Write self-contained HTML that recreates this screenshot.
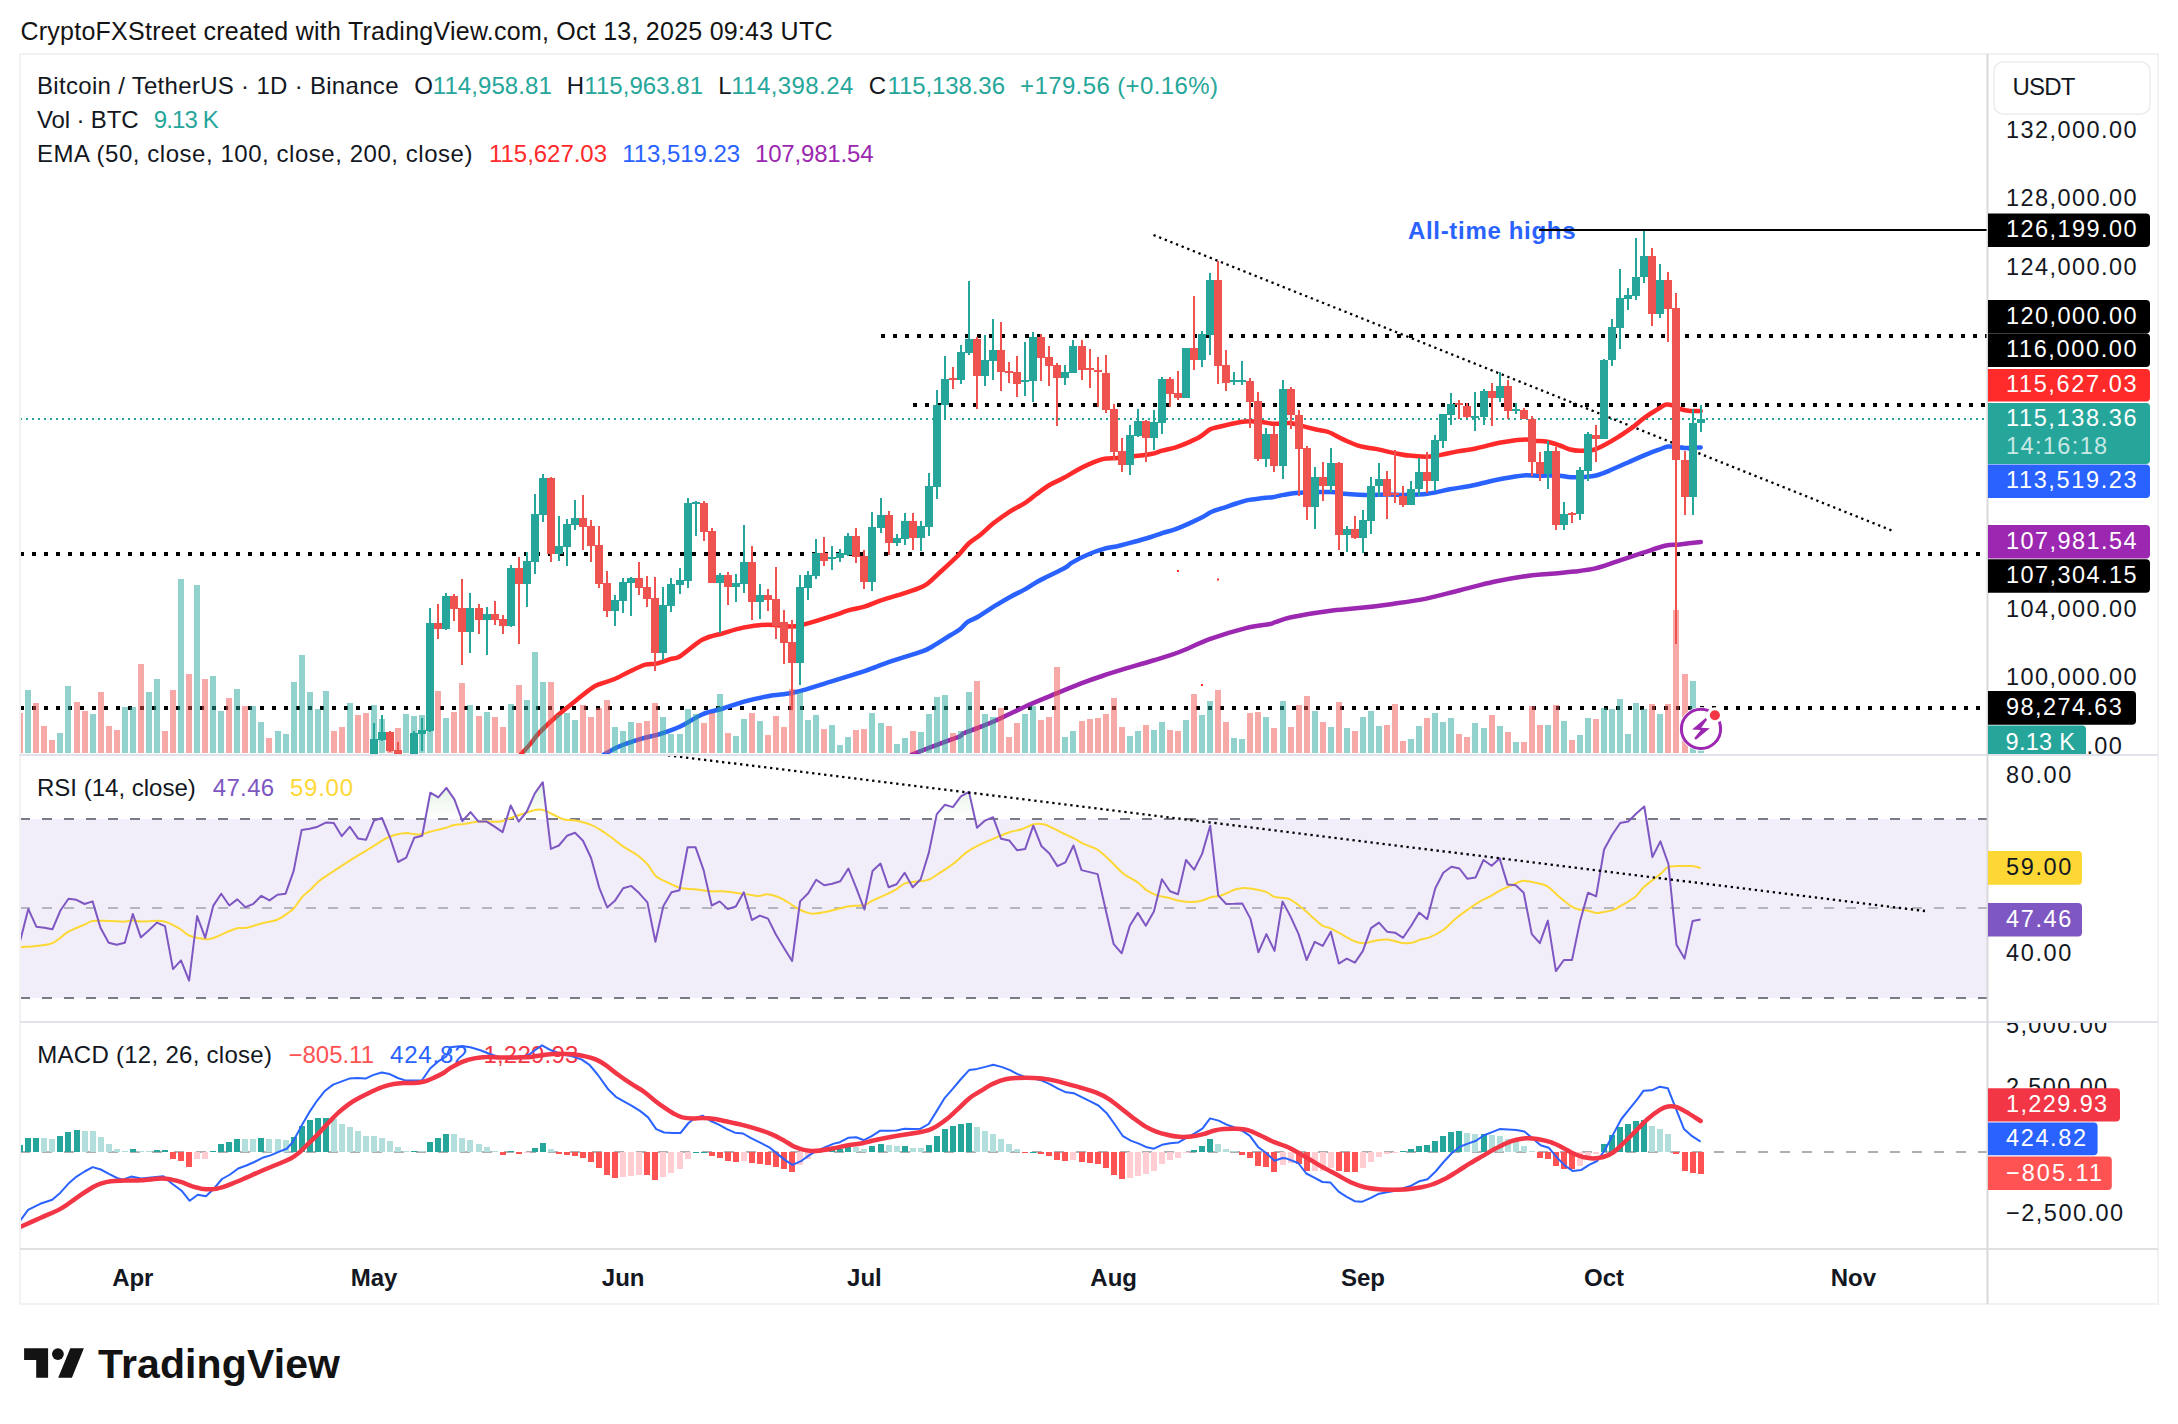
<!DOCTYPE html>
<html lang="en"><head><meta charset="utf-8"><title>BTCUSDT chart</title>
<style>html,body{margin:0;padding:0;background:#fff}svg text{white-space:pre}</style></head>
<body>
<svg width="2178" height="1424" viewBox="0 0 2178 1424" font-family="'Liberation Sans', sans-serif" style="display:block">
<defs>
<clipPath id="cm"><rect x="21" y="55" width="1966" height="699"/></clipPath>
<clipPath id="cr"><rect x="21" y="756" width="1966" height="265"/></clipPath>
<clipPath id="cd"><rect x="21" y="1023" width="1966" height="225"/></clipPath>
<clipPath id="ca1"><rect x="1989" y="55" width="168" height="699"/></clipPath>
<clipPath id="ca3"><rect x="1989" y="1023" width="168" height="225"/></clipPath>
<clipPath id="c70"><rect x="21" y="756" width="1966" height="63"/></clipPath>
<linearGradient id="gob" gradientUnits="userSpaceOnUse" x1="0" y1="700" x2="0" y2="819"><stop offset="0" stop-color="#4caf50" stop-opacity="0.55"/><stop offset="1" stop-color="#4caf50" stop-opacity="0"/></linearGradient>
</defs>
<rect width="2178" height="1424" fill="#fff"/>
<text x="20.5" y="40" font-size="25" fill="#131313" textLength="812" lengthAdjust="spacing">CryptoFXStreet created with TradingView.com, Oct 13, 2025 09:43 UTC</text>
<rect x="20" y="54" width="2138" height="1250" fill="none" stroke="#f2f2f2" stroke-width="2"/>
<g clip-path="url(#cm)">
<line x1="881" y1="336" x2="1987" y2="336" stroke="#000" stroke-width="4" stroke-dasharray="4 8"/>
<line x1="913" y1="405" x2="1987" y2="405" stroke="#000" stroke-width="4" stroke-dasharray="4 8"/>
<line x1="20" y1="554" x2="1987" y2="554" stroke="#000" stroke-width="4" stroke-dasharray="4 8"/>
<line x1="20" y1="708" x2="1987" y2="708" stroke="#000" stroke-width="4" stroke-dasharray="4 8"/>
<line x1="20" y1="419" x2="1987" y2="419" stroke="#26a69a" stroke-width="2" stroke-dasharray="2 4"/>
<line x1="1153.5" y1="235" x2="1893" y2="531" stroke="#000" stroke-width="2.3" stroke-dasharray="2.3 3.75"/>
<path d="M911.7,754.6C916.6,752.7 932.8,746.4 940.9,743.4C949,740.3 956.3,737.9 960,736.2C963.7,734.5 960.3,734.7 963.4,733.3C966.5,731.8 972.7,730.1 978.5,727.7C984.4,725.4 990.4,723 998.6,719.2C1006.9,715.5 1018.5,709.6 1028,705.3C1037.5,701.1 1047,697.3 1055.8,693.7C1064.6,690.1 1072.8,686.7 1080.5,683.7C1088.2,680.7 1094.4,678.5 1102.2,676C1109.9,673.4 1118.4,670.8 1126.9,668.2C1135.4,665.7 1144.4,663.2 1153.1,660.5C1161.9,657.8 1169.9,655.6 1179.4,652C1188.9,648.4 1199.2,642.9 1210.3,638.9C1221.4,634.9 1235.9,630.6 1245.8,628.1C1255.8,625.6 1265.1,625 1270,624C1274.9,623 1271.7,623.3 1275.2,622.2C1278.7,621.1 1282.1,619.1 1291.1,617.2C1300.1,615.3 1317.9,612.4 1329.1,610.9C1340.4,609.4 1348.1,609.3 1358.7,608.1C1369.3,607 1381.2,605.5 1392.5,603.9C1403.8,602.3 1415,600.9 1426.3,598.6C1437.5,596.3 1448.8,593 1460.1,590.2C1471.3,587.4 1483.3,584 1493.9,581.7C1504.4,579.5 1513.9,577.8 1523.4,576.5C1532.9,575.1 1542.4,574.5 1550.9,573.7C1559.3,572.9 1566.7,572.5 1574.1,571.6C1581.5,570.7 1588.2,570.1 1595.2,568.4C1602.3,566.8 1608.6,564.2 1616.4,561.7C1624.1,559.1 1633.6,555.9 1641.7,553.2C1649.8,550.6 1658.6,547.3 1664.9,545.8C1671.3,544.4 1673.7,545 1679.7,544.4C1685.7,543.7 1697.3,542.4 1700.8,542" stroke="#9c27b0" stroke-width="4.5" fill="none" stroke-linecap="round" stroke-linejoin="round"/>
<path d="M603.8,754.6C606.3,753.3 612.2,749.4 618.4,746.7C624.6,744.1 634.2,740.9 640.9,738.9C647.6,736.8 652.3,736.4 658.9,734.4C665.4,732.3 672.9,729.9 680.2,726.5C687.5,723.1 695.6,717.2 702.7,714.2C709.8,711.2 716.2,710.6 722.9,708.5C729.7,706.5 735.7,703.9 743.1,701.8C750.6,699.7 760,697.6 767.9,696.2C775.7,694.8 784,694.4 790.3,693.3C796.7,692.1 799.3,691.4 806.1,689.4C812.8,687.5 823.3,683.9 830.8,681.6C838.3,679.2 845,677.2 851,675.3C857,673.4 861.1,672.3 866.7,670.3C872.4,668.4 878.4,665.8 884.7,663.6C891.1,661.3 898.6,658.9 904.9,656.9C911.3,654.8 918.4,652.9 922.9,651.2C927.4,649.6 927.4,649.4 931.9,646.7C936.4,644.1 945.2,638.4 949.9,635.5C954.6,632.6 957,631.6 960,629.3C963,627 964.6,624 967.7,621.9C970.8,619.8 974.2,619.1 978.5,616.5C982.9,613.9 988.6,609.8 994,606.4C999.4,603.1 1005.8,599.2 1011,596.4C1016.1,593.6 1020.5,591.9 1024.9,589.4C1029.3,587 1033.4,583.9 1037.3,581.7C1041.1,579.5 1043.4,578.6 1048.1,576.3C1052.7,574 1061,570.1 1065.1,567.8C1069.1,565.5 1068.5,564.6 1072.4,562.4C1076.2,560.1 1082.8,556.7 1088.1,554.5C1093.3,552.2 1099,550.3 1103.8,548.9C1108.7,547.5 1112.1,547.4 1117.3,546.2C1122.5,544.9 1129.7,543 1135.3,541.5C1140.9,539.9 1146.5,538.4 1151,537C1155.5,535.6 1158.1,534.5 1162.2,533.1C1166.4,531.8 1170.9,530.9 1175.7,529.1C1180.6,527.3 1187,524.4 1191.5,522.4C1196,520.3 1199.3,518.7 1202.7,517C1206.1,515.2 1207.9,513.4 1211.7,511.8C1215.4,510.2 1221,508.7 1225.2,507.3C1229.3,505.9 1232.7,504.7 1236.4,503.5C1240.1,502.3 1243.5,501 1247.6,500.1C1251.8,499.3 1257,498.8 1261.1,498.3C1265.2,497.8 1268.6,497.8 1272.4,497.2C1276.1,496.6 1279,495.7 1283.5,494.9C1288,494.2 1291.3,493.2 1299.2,492.7C1307.1,492.2 1323.2,491.8 1330.7,492C1338.2,492.2 1338.5,493.3 1344.2,493.8C1349.8,494.3 1356.9,494.8 1364.4,494.9C1371.9,495.1 1382.4,494.5 1389.1,494.5C1395.8,494.5 1398.5,495.1 1404.8,494.9C1411.2,494.8 1419.8,494.8 1427.3,493.8C1434.8,492.9 1442.3,490.7 1449.8,489.3C1457.3,487.9 1464.8,487 1472.2,485.5C1479.7,484 1488,481.8 1494.7,480.3C1501.5,478.9 1507.8,477.8 1512.7,477C1517.6,476.1 1519.4,475.6 1523.9,475.4C1528.4,475.2 1534.8,475.8 1539.7,475.8C1544.5,475.8 1549.8,475.4 1553.1,475.4C1556.5,475.4 1557,475.4 1560,475.7C1563,476 1567.1,477.1 1571.2,477.3C1575.4,477.5 1580.6,477.2 1584.7,476.9C1588.8,476.6 1591.8,476.6 1596,475.5C1600.1,474.5 1604.2,472.7 1609.4,470.6C1614.7,468.4 1621.4,465.3 1627.4,462.7C1633.4,460.1 1640.1,457 1645.4,454.8C1650.6,452.7 1655.1,451 1658.9,449.7C1662.6,448.3 1664.9,447 1667.9,446.5C1670.9,446.1 1673.9,446.7 1676.9,447C1679.9,447.2 1681.9,448 1685.8,448.1C1689.8,448.2 1698.2,447.5 1700.7,447.4" stroke="#2962ff" stroke-width="4.5" fill="none" stroke-linecap="round" stroke-linejoin="round"/>
<path d="M520.7,754.6C522.4,752.7 527.6,747.1 530.8,743.4C534,739.6 535.3,736.8 539.8,732.1C544.3,727.5 551.8,720.5 557.8,715.3C563.7,710 570.1,705.2 575.7,700.7C581.3,696.2 587.3,691.1 591.5,688.3C595.6,685.5 596.7,685.3 600.4,683.8C604.2,682.3 609.1,681.4 613.9,679.3C618.8,677.3 624.4,673.9 629.7,671.5C634.9,669 640.9,666 645.4,664.7C649.9,663.4 652.5,664.5 656.6,663.6C660.7,662.7 666.2,660.3 670.1,659.1C674,657.9 674.8,659.4 680.2,656.2C685.7,652.9 695.6,643.4 702.7,639.6C709.8,635.7 716.2,635.2 722.9,633.3C729.7,631.3 735.7,629.1 743.1,627.6C750.6,626.2 759.6,624.9 767.9,624.7C776.1,624.5 786.2,626.7 792.6,626.5C799,626.4 799.7,625.5 806.1,623.8C812.4,622.1 823.3,618.8 830.8,616.4C838.3,614 845.4,611.3 851,609.7C856.6,608.1 859.6,608.2 864.5,606.7C869.4,605.2 874.6,602.6 880.2,600.7C885.8,598.7 891.8,597.1 898.2,595.1C904.6,593 913.6,590.2 918.4,588.3C923.3,586.4 923.7,586.6 927.4,583.8C931.2,581 936,576 940.9,571.5C945.8,567 953.4,559.9 956.6,556.9C959.8,553.8 957.9,555.6 960,553.4C962.1,551.1 965.6,546.3 969,543.3C972.4,540.2 976.1,538.3 980.2,534.9C984.3,531.6 988.8,526.9 993.7,523C998.6,519.2 1004.2,515.2 1009.4,511.8C1014.7,508.4 1020.7,505.7 1025.2,502.8C1029.7,499.9 1032.3,497.3 1036.4,494.3C1040.5,491.3 1045.4,487.5 1049.9,484.8C1054.4,482.1 1058.9,480.5 1063.4,478.1C1067.9,475.7 1072.7,472.5 1076.9,470.2C1081,468 1084.3,466.3 1088.1,464.6C1091.8,462.9 1096.3,461.1 1099.3,460.1C1102.3,459.1 1103.1,458.9 1106.1,458.5C1109.1,458.2 1112.8,458.2 1117.3,457.9C1121.8,457.5 1127.4,456.9 1133,456.3C1138.7,455.7 1146.1,455 1151,454C1155.9,453.1 1158.1,451.8 1162.2,450.7C1166.4,449.6 1171.2,448.7 1175.7,447.3C1180.2,445.9 1185.1,443.9 1189.2,442.1C1193.3,440.3 1197.1,438.6 1200.4,436.5C1203.8,434.5 1206.8,431.3 1209.4,429.8C1212.1,428.3 1212.8,428.5 1216.2,427.5C1219.6,426.6 1225.5,425.1 1229.7,424.2C1233.8,423.2 1237.5,422.4 1240.9,421.9C1244.3,421.4 1246.5,421.2 1249.9,421.2C1253.3,421.2 1257.4,421.5 1261.1,421.9C1264.9,422.3 1269.4,423.4 1272.4,423.7C1275.3,424 1276,423.8 1279,423.7C1282,423.6 1286.1,422.6 1290.2,423C1294.3,423.5 1299.2,425.3 1303.7,426.4C1308.2,427.5 1313.1,428.8 1317.2,429.8C1321.3,430.7 1323.9,430.3 1328.4,432C1332.9,433.7 1338.9,437.5 1344.2,439.9C1349.4,442.2 1354.6,444.7 1359.9,446.2C1365.1,447.7 1370,447.8 1375.6,448.9C1381.2,450 1388,451.8 1393.6,452.9C1399.2,454 1403.7,455 1409.3,455.6C1414.9,456.3 1422.1,456.9 1427.3,456.7C1432.5,456.6 1435.9,455.8 1440.8,454.9C1445.7,454.1 1450.5,452.7 1456.5,451.6C1462.5,450.4 1469.6,449.7 1476.7,448.2C1483.9,446.7 1492.8,444.1 1499.2,442.8C1505.6,441.5 1510.4,440.9 1514.9,440.3C1519.4,439.8 1522.8,439.3 1526.2,439.4C1529.6,439.6 1531.8,440.7 1535.2,441C1538.5,441.3 1542.3,440.7 1546.4,441.5C1550.5,442.2 1556.1,444.2 1559.9,445.5C1563.7,446.8 1565.6,448.3 1569,449.2C1572.4,450.1 1576.1,450.7 1580.2,450.8C1584.3,450.9 1589.6,450.7 1593.7,449.7C1597.8,448.7 1600.8,446.9 1604.9,444.7C1609.1,442.6 1613.9,439.7 1618.4,436.9C1622.9,434 1627.6,431 1631.9,427.9C1636.2,424.7 1640.1,420.7 1644.3,417.8C1648.4,414.8 1653.1,412.1 1656.6,409.9C1660.2,407.7 1663,405.5 1665.6,404.7C1668.2,404 1669.7,404.6 1672.4,405.4C1675,406.2 1678.4,408.5 1681.3,409.4C1684.3,410.4 1687.1,410.7 1690.3,411C1693.6,411.3 1699,411 1700.7,411" stroke="#ff2a2a" stroke-width="4.5" fill="none" stroke-linecap="round" stroke-linejoin="round"/>
<path d="M25,753V690h6V753zM57,753V733h6V753zM65,753V686h6V753zM90,753V714h6V753zM122,753V707h6V753zM130,753V707h6V753zM146,753V692h6V753zM154,753V679h6V753zM178,753V579h6V753zM194,753V585h6V753zM210,753V676h6V753zM218,753V711h6V753zM234,753V689h6V753zM250,753V706h6V753zM258,753V722h6V753zM275,753V731h6V753zM283,753V734h6V753zM291,753V682h6V753zM299,753V655h6V753zM307,753V692h6V753zM315,753V709h6V753zM323,753V691h6V753zM347,753V703h6V753zM371,753V705h6V753zM379,753V719h6V753zM403,753V714h6V753zM411,753V716h6V753zM419,753V715h6V753zM427,753V698h6V753zM443,753V718h6V753zM467,753V705h6V753zM484,753V712h6V753zM508,753V704h6V753zM524,753V700h6V753zM532,753V652h6V753zM540,753V682h6V753zM556,753V715h6V753zM564,753V713h6V753zM572,753V720h6V753zM612,753V727h6V753zM620,753V731h6V753zM628,753V722h6V753zM660,753V717h6V753zM668,753V734h6V753zM677,753V734h6V753zM685,753V709h6V753zM693,753V714h6V753zM717,753V694h6V753zM733,753V736h6V753zM741,753V719h6V753zM757,753V721h6V753zM797,753V692h6V753zM805,753V720h6V753zM813,753V715h6V753zM829,753V725h6V753zM837,753V745h6V753zM845,753V737h6V753zM869,753V713h6V753zM878,753V723h6V753zM894,753V744h6V753zM902,753V738h6V753zM918,753V732h6V753zM926,753V714h6V753zM934,753V697h6V753zM942,753V695h6V753zM958,753V731h6V753zM966,753V692h6V753zM982,753V714h6V753zM990,753V717h6V753zM1022,753V714h6V753zM1030,753V706h6V753zM1062,753V737h6V753zM1070,753V731h6V753zM1127,753V736h6V753zM1135,753V731h6V753zM1151,753V730h6V753zM1159,753V722h6V753zM1183,753V720h6V753zM1199,753V715h6V753zM1207,753V701h6V753zM1231,753V738h6V753zM1239,753V739h6V753zM1263,753V717h6V753zM1280,753V701h6V753zM1312,753V711h6V753zM1328,753V727h6V753zM1344,753V728h6V753zM1360,753V717h6V753zM1368,753V711h6V753zM1376,753V726h6V753zM1408,753V739h6V753zM1416,753V726h6V753zM1432,753V713h6V753zM1440,753V722h6V753zM1448,753V718h6V753zM1472,753V723h6V753zM1481,753V728h6V753zM1497,753V726h6V753zM1513,753V742h6V753zM1545,753V725h6V753zM1561,753V721h6V753zM1577,753V735h6V753zM1585,753V718h6V753zM1601,753V708h6V753zM1609,753V709h6V753zM1617,753V699h6V753zM1625,753V734h6V753zM1633,753V703h6V753zM1641,753V709h6V753zM1657,753V714h6V753zM1690,753V681h6V753zM1698,753V750h6V753z" fill="#26a69a" fill-opacity="0.5"/>
<path d="M17,753V713h6V753zM33,753V703h6V753zM41,753V726h6V753zM49,753V740h6V753zM74,753V702h6V753zM82,753V711h6V753zM98,753V692h6V753zM106,753V726h6V753zM114,753V730h6V753zM138,753V664h6V753zM162,753V731h6V753zM170,753V690h6V753zM186,753V674h6V753zM202,753V679h6V753zM226,753V698h6V753zM242,753V706h6V753zM266,753V738h6V753zM331,753V731h6V753zM339,753V727h6V753zM355,753V715h6V753zM363,753V713h6V753zM387,753V732h6V753zM395,753V728h6V753zM435,753V691h6V753zM451,753V712h6V753zM459,753V683h6V753zM476,753V716h6V753zM492,753V717h6V753zM500,753V727h6V753zM516,753V685h6V753zM548,753V682h6V753zM580,753V705h6V753zM588,753V717h6V753zM596,753V708h6V753zM604,753V700h6V753zM636,753V723h6V753zM644,753V721h6V753zM652,753V703h6V753zM701,753V723h6V753zM709,753V713h6V753zM725,753V733h6V753zM749,753V713h6V753zM765,753V735h6V753zM773,753V716h6V753zM781,753V727h6V753zM789,753V689h6V753zM821,753V729h6V753zM853,753V730h6V753zM861,753V729h6V753zM886,753V726h6V753zM910,753V731h6V753zM950,753V733h6V753zM974,753V681h6V753zM998,753V708h6V753zM1006,753V737h6V753zM1014,753V723h6V753zM1038,753V720h6V753zM1046,753V717h6V753zM1054,753V667h6V753zM1079,753V721h6V753zM1087,753V719h6V753zM1095,753V718h6V753zM1103,753V714h6V753zM1111,753V698h6V753zM1119,753V727h6V753zM1143,753V725h6V753zM1167,753V730h6V753zM1175,753V731h6V753zM1191,753V694h6V753zM1215,753V690h6V753zM1223,753V722h6V753zM1247,753V713h6V753zM1255,753V712h6V753zM1271,753V728h6V753zM1288,753V727h6V753zM1296,753V705h6V753zM1304,753V696h6V753zM1320,753V722h6V753zM1336,753V702h6V753zM1352,753V731h6V753zM1384,753V725h6V753zM1392,753V704h6V753zM1400,753V741h6V753zM1424,753V718h6V753zM1456,753V734h6V753zM1464,753V737h6V753zM1489,753V715h6V753zM1505,753V732h6V753zM1521,753V742h6V753zM1529,753V706h6V753zM1537,753V725h6V753zM1553,753V705h6V753zM1569,753V740h6V753zM1593,753V719h6V753zM1649,753V704h6V753zM1665,753V704h6V753zM1673,753V610h6V753zM1682,753V674h6V753z" fill="#ef5350" fill-opacity="0.5"/>
<path d="M373,723h2V755h-2zM381,715h2V741h-2zM413,731h2V755h-2zM421,718h2V751h-2zM429,608h2V732h-2zM445,593h2V630h-2zM469,593h2V653h-2zM486,607h2V655h-2zM510,565h2V627h-2zM526,552h2V607h-2zM534,494h2V574h-2zM542,474h2V522h-2zM558,516h2V561h-2zM566,519h2V566h-2zM574,500h2V530h-2zM614,595h2V626h-2zM622,578h2V613h-2zM630,577h2V616h-2zM662,587h2V660h-2zM670,578h2V612h-2zM679,568h2V594h-2zM687,498h2V588h-2zM695,501h2V536h-2zM719,573h2V633h-2zM735,574h2V602h-2zM743,525h2V593h-2zM759,584h2V619h-2zM799,575h2V685h-2zM807,571h2V600h-2zM815,539h2V579h-2zM831,546h2V570h-2zM839,549h2V562h-2zM847,533h2V556h-2zM871,512h2V591h-2zM880,498h2V533h-2zM896,534h2V546h-2zM904,513h2V545h-2zM920,521h2V551h-2zM928,473h2V536h-2zM936,390h2V499h-2zM944,356h2V419h-2zM960,345h2V384h-2zM968,281h2V355h-2zM984,335h2V386h-2zM992,319h2V380h-2zM1024,342h2V396h-2zM1032,332h2V402h-2zM1064,365h2V385h-2zM1072,340h2V373h-2zM1129,425h2V475h-2zM1137,409h2V437h-2zM1153,410h2V450h-2zM1161,377h2V434h-2zM1185,348h2V398h-2zM1201,331h2V367h-2zM1209,273h2V355h-2zM1233,372h2V385h-2zM1241,361h2V385h-2zM1265,428h2V467h-2zM1282,380h2V479h-2zM1314,467h2V529h-2zM1330,448h2V492h-2zM1346,526h2V552h-2zM1362,510h2V553h-2zM1370,477h2V534h-2zM1378,463h2V497h-2zM1410,481h2V505h-2zM1418,458h2V496h-2zM1434,435h2V491h-2zM1442,414h2V448h-2zM1450,393h2V425h-2zM1474,392h2V431h-2zM1483,389h2V425h-2zM1499,372h2V402h-2zM1515,403h2V414h-2zM1547,441h2V489h-2zM1563,502h2V530h-2zM1579,467h2V520h-2zM1587,432h2V481h-2zM1603,359h2V439h-2zM1611,319h2V366h-2zM1619,269h2V349h-2zM1627,288h2V310h-2zM1635,238h2V300h-2zM1643,230h2V283h-2zM1659,264h2V318h-2zM1692,409h2V515h-2zM1700,405h2V432h-2z" fill="#26a69a"/>
<path d="M389,731h2V752h-2zM397,742h2V755h-2zM437,604h2V639h-2zM453,594h2V621h-2zM461,579h2V665h-2zM478,604h2V634h-2zM494,601h2V625h-2zM502,615h2V634h-2zM518,557h2V644h-2zM550,477h2V562h-2zM582,495h2V550h-2zM590,520h2V562h-2zM598,526h2V588h-2zM606,571h2V617h-2zM638,562h2V595h-2zM646,576h2V607h-2zM654,577h2V671h-2zM703,501h2V541h-2zM711,528h2V583h-2zM727,572h2V605h-2zM751,546h2V620h-2zM767,589h2V611h-2zM775,567h2V639h-2zM783,610h2V664h-2zM791,620h2V710h-2zM823,537h2V566h-2zM855,528h2V563h-2zM863,550h2V589h-2zM888,511h2V555h-2zM912,513h2V550h-2zM952,367h2V389h-2zM976,337h2V409h-2zM1000,322h2V391h-2zM1008,362h2V383h-2zM1016,356h2V397h-2zM1040,334h2V381h-2zM1048,346h2V386h-2zM1056,363h2V426h-2zM1081,340h2V380h-2zM1089,349h2V388h-2zM1097,357h2V407h-2zM1105,355h2V413h-2zM1113,404h2V460h-2zM1121,438h2V472h-2zM1145,420h2V462h-2zM1169,377h2V407h-2zM1177,371h2V400h-2zM1193,296h2V370h-2zM1217,261h2V384h-2zM1225,350h2V391h-2zM1249,378h2V428h-2zM1257,392h2V461h-2zM1273,425h2V472h-2zM1290,387h2V429h-2zM1298,410h2V496h-2zM1306,446h2V520h-2zM1322,462h2V501h-2zM1338,462h2V550h-2zM1354,516h2V539h-2zM1386,471h2V519h-2zM1394,450h2V503h-2zM1402,486h2V507h-2zM1426,452h2V493h-2zM1458,400h2V419h-2zM1466,403h2V418h-2zM1491,383h2V426h-2zM1507,380h2V419h-2zM1523,408h2V419h-2zM1531,416h2V476h-2zM1539,452h2V481h-2zM1555,447h2V530h-2zM1571,512h2V523h-2zM1595,425h2V462h-2zM1651,248h2V326h-2zM1667,272h2V342h-2zM1675,293h2V644h-2zM1684,451h2V515h-2z" fill="#ef5350"/>
<path d="M370,739h8V755h-8zM378,732h8V740h-8zM410,733h8V755h-8zM418,730h8V734h-8zM426,623h8V731h-8zM442,596h8V629h-8zM466,608h8V632h-8zM483,614h8V620h-8zM507,568h8V626h-8zM523,561h8V584h-8zM531,514h8V562h-8zM539,478h8V515h-8zM555,546h8V554h-8zM563,524h8V547h-8zM571,518h8V525h-8zM611,600h8V611h-8zM619,582h8V601h-8zM627,578h8V583h-8zM659,605h8V653h-8zM667,584h8V606h-8zM676,580h8V585h-8zM684,503h8V581h-8zM692,502h8V504h-8zM716,575h8V583h-8zM732,583h8V587h-8zM740,562h8V584h-8zM756,595h8V602h-8zM796,587h8V663h-8zM804,575h8V588h-8zM812,553h8V576h-8zM828,557h8V559h-8zM836,553h8V558h-8zM844,536h8V555h-8zM868,527h8V582h-8zM877,515h8V528h-8zM893,538h8V543h-8zM901,521h8V539h-8zM917,526h8V538h-8zM925,486h8V527h-8zM933,405h8V487h-8zM941,379h8V405h-8zM957,352h8V380h-8zM965,339h8V353h-8zM981,360h8V376h-8zM989,350h8V361h-8zM1021,380h8V382h-8zM1029,337h8V381h-8zM1061,372h8V378h-8zM1069,346h8V373h-8zM1126,435h8V465h-8zM1134,421h8V436h-8zM1150,422h8V438h-8zM1158,379h8V423h-8zM1182,348h8V398h-8zM1198,334h8V360h-8zM1206,280h8V335h-8zM1230,380h8V382h-8zM1238,380h8V382h-8zM1262,434h8V459h-8zM1279,389h8V466h-8zM1311,477h8V507h-8zM1327,463h8V486h-8zM1343,529h8V535h-8zM1359,520h8V538h-8zM1367,486h8V521h-8zM1375,479h8V486h-8zM1407,489h8V505h-8zM1415,472h8V489h-8zM1431,440h8V481h-8zM1439,414h8V441h-8zM1447,404h8V415h-8zM1471,416h8V418h-8zM1480,391h8V417h-8zM1496,386h8V398h-8zM1512,409h8V411h-8zM1544,451h8V474h-8zM1560,514h8V525h-8zM1576,470h8V514h-8zM1584,434h8V471h-8zM1600,360h8V439h-8zM1608,327h8V360h-8zM1616,298h8V328h-8zM1624,295h8V299h-8zM1632,277h8V296h-8zM1640,256h8V277h-8zM1656,280h8V314h-8zM1689,423h8V497h-8zM1697,419h8V423h-8z" fill="#26a69a"/>
<path d="M386,732h8V751h-8zM394,750h8V755h-8zM434,623h8V629h-8zM450,596h8V609h-8zM458,608h8V632h-8zM475,608h8V620h-8zM491,614h8V620h-8zM499,619h8V626h-8zM515,568h8V584h-8zM547,478h8V554h-8zM579,518h8V527h-8zM587,526h8V546h-8zM595,545h8V584h-8zM603,583h8V611h-8zM635,578h8V588h-8zM643,587h8V599h-8zM651,598h8V653h-8zM700,503h8V532h-8zM708,531h8V583h-8zM724,575h8V587h-8zM748,562h8V602h-8zM764,595h8V600h-8zM772,599h8V626h-8zM780,622h8V643h-8zM788,642h8V663h-8zM820,553h8V561h-8zM852,536h8V557h-8zM860,556h8V582h-8zM885,515h8V543h-8zM909,521h8V538h-8zM949,378h8V380h-8zM973,339h8V376h-8zM997,350h8V372h-8zM1005,371h8V373h-8zM1013,372h8V384h-8zM1037,337h8V358h-8zM1045,357h8V366h-8zM1053,365h8V378h-8zM1078,346h8V370h-8zM1086,368h8V370h-8zM1094,370h8V372h-8zM1102,373h8V410h-8zM1110,409h8V452h-8zM1118,451h8V465h-8zM1142,421h8V438h-8zM1166,379h8V394h-8zM1174,393h8V398h-8zM1190,348h8V360h-8zM1214,280h8V366h-8zM1222,365h8V383h-8zM1246,381h8V402h-8zM1254,401h8V459h-8zM1270,434h8V466h-8zM1287,389h8V415h-8zM1295,415h8V449h-8zM1303,448h8V507h-8zM1319,477h8V486h-8zM1335,463h8V535h-8zM1351,529h8V538h-8zM1383,479h8V496h-8zM1391,493h8V495h-8zM1399,496h8V505h-8zM1423,472h8V481h-8zM1455,403h8V405h-8zM1463,406h8V417h-8zM1488,391h8V398h-8zM1504,386h8V411h-8zM1520,410h8V419h-8zM1528,419h8V462h-8zM1536,462h8V474h-8zM1552,451h8V525h-8zM1568,513h8V515h-8zM1592,435h8V439h-8zM1648,256h8V314h-8zM1664,280h8V309h-8zM1672,308h8V460h-8zM1681,460h8V497h-8z" fill="#ef5350"/>
<rect x="1177" y="570" width="2" height="2" fill="#ff2a2a"/>
<rect x="1217" y="578.5" width="2" height="2" fill="#ff2a2a"/>
<rect x="1201" y="684" width="2" height="2" fill="#ff2a2a"/>
<text x="1408" y="239" font-size="24" fill="#2962ff" font-weight="700" textLength="167.5" lengthAdjust="spacing">All-time highs</text>
<line x1="1539" y1="230" x2="1987" y2="230" stroke="#000" stroke-width="2"/>
<circle cx="1701" cy="728.9" r="21.8" fill="#fff"/>
<circle cx="1701" cy="728.9" r="19.6" fill="#fff" stroke="#9c27b0" stroke-width="3"/>
<path d="M1705.6,718.1L1707.1,719.8L1701.2,727.8L1709.8,728.2L1695.9,739.8L1694.2,738.3L1700.8,730.1L1692.1,729.5z" fill="#9c27b0"/>
<circle cx="1714.9" cy="715.2" r="8" fill="#fff"/><circle cx="1714.9" cy="715.2" r="5" fill="#f23645"/>
</g>
<text x="37" y="94" font-size="24" fill="#131722" textLength="361.5" lengthAdjust="spacing">Bitcoin / TetherUS · 1D · Binance</text>
<text x="414.2" y="94" font-size="24" fill="#131722">O</text>
<text x="432.8" y="94" font-size="24" fill="#26a69a" textLength="119" lengthAdjust="spacing">114,958.81</text>
<text x="566.7" y="94" font-size="24" fill="#131722">H</text>
<text x="584.3" y="94" font-size="24" fill="#26a69a" textLength="118.7" lengthAdjust="spacing">115,963.81</text>
<text x="718.2" y="94" font-size="24" fill="#131722">L</text>
<text x="731.3" y="94" font-size="24" fill="#26a69a" textLength="122" lengthAdjust="spacing">114,398.24</text>
<text x="868.7" y="94" font-size="24" fill="#131722">C</text>
<text x="887.4" y="94" font-size="24" fill="#26a69a" textLength="117.6" lengthAdjust="spacing">115,138.36</text>
<text x="1020" y="94" font-size="24" fill="#26a69a" textLength="198" lengthAdjust="spacing">+179.56 (+0.16%)</text>
<text x="37" y="127.5" font-size="24" fill="#131722" textLength="101.5" lengthAdjust="spacing">Vol · BTC</text>
<text x="153.7" y="127.5" font-size="24" fill="#26a69a" textLength="65" lengthAdjust="spacing">9.13 K</text>
<text x="37" y="162" font-size="24" fill="#131722" textLength="435.5" lengthAdjust="spacing">EMA (50, close, 100, close, 200, close)</text>
<text x="489" y="162" font-size="24" fill="#ff2a2a" textLength="118" lengthAdjust="spacing">115,627.03</text>
<text x="622.2" y="162" font-size="24" fill="#2962ff" textLength="118" lengthAdjust="spacing">113,519.23</text>
<text x="755" y="162" font-size="24" fill="#9c27b0" textLength="118.5" lengthAdjust="spacing">107,981.54</text>
<g clip-path="url(#cr)">
<rect x="20" y="819" width="1967" height="179" fill="#7e57c2" fill-opacity="0.1"/>
<line x1="20" y1="819" x2="1987" y2="819" stroke="#787b86" stroke-width="2" stroke-dasharray="10 12"/>
<line x1="20" y1="998" x2="1987" y2="998" stroke="#787b86" stroke-width="2" stroke-dasharray="10 12"/>
<line x1="20" y1="908" x2="1987" y2="908" stroke="#787b86" stroke-opacity="0.5" stroke-width="2" stroke-dasharray="10 12"/>
<text x="37" y="796" font-size="24" fill="#131722" textLength="158.8" lengthAdjust="spacing">RSI (14, close)</text>
<text x="212.7" y="796" font-size="24" fill="#7e57c2" textLength="61.5" lengthAdjust="spacing">47.46</text>
<text x="290" y="796" font-size="24" fill="#fdd835" textLength="63" lengthAdjust="spacing">59.00</text>
<path d="M20.2,940.8L28.3,908.9L36.3,926.7L44.4,927.7L52.4,929.3L60.4,910.5L68.5,898.8L76.5,899.8L84.6,904L92.6,901.4L100.6,928.1L108.7,942.8L116.7,944.8L124.8,942.8L132.8,913.9L140.8,937.4L148.9,930.3L156.9,922.6L165,926.1L173,969.1L181,960.4L189.1,980.6L197.1,916L205.2,937.8L213.2,905.9L221.2,893.7L229.3,905.5L237.3,899.4L245.4,907.1L253.4,903.8L261.4,895.8L269.5,900.4L277.5,894.7L285.6,893.7L293.6,871.1L301.6,830.1L309.7,828.7L317.7,826.7L325.8,822.6L333.8,823L341.8,836.2L349.9,826.7L357.9,838.4L366,839.8L374,820.6L382,818L390.1,837.8L398.1,862L406.2,857.6L414.2,837.8L422.2,835.8L430.3,792.7L438.3,797.4L446.4,787.9L454.4,799.4L462.4,821.2L470.5,812.1L478.5,821.6L486.6,821.6L494.6,826.7L502.6,832.1L510.7,805.5L518.7,821.6L526.8,811.5L534.8,793.3L542.8,782.2L550.9,848.9L558.9,845.5L567,835.8L575,832.7L583,840.8L591.1,858L599.1,887.3L607.2,907.5L615.2,900.4L623.2,888.3L631.3,885.9L639.3,893.3L647.4,902.4L655.4,941.8L663.4,905.9L671.5,892.3L679.5,890.3L687.6,847.3L695.6,847.3L703.6,870.1L711.7,905.5L719.7,901.4L727.8,909.1L735.8,906.5L743.8,892.3L751.9,920L759.9,915.6L768,918.6L776,934.7L784,947.9L792.1,961L800.1,901.4L808.2,893.3L816.2,879.8L824.2,885.3L832.3,883.8L840.3,881.2L848.4,868.5L856.4,888.3L864.4,909.5L872.5,871.1L880.5,863.6L888.6,887.3L896.6,884.2L904.6,872.7L912.7,887.3L920.7,879.2L928.8,852.9L936.8,814.1L944.8,804.8L952.9,807.1L960.9,796.4L969,791.9L977,827.7L985,820.6L993.1,817.2L1001.1,838.8L1009.2,840.4L1017.2,850.3L1025.2,848.9L1033.3,825.7L1041.3,845.9L1049.4,853.5L1057.4,866.1L1065.4,862.4L1073.5,845.5L1081.5,870.1L1089.6,872.1L1097.6,874.1L1105.6,909.5L1113.7,944.2L1121.7,953.3L1129.8,925.7L1137.8,912.9L1145.8,925.7L1153.9,911.5L1161.9,879.2L1170,891.3L1178,894.3L1186,860L1194.1,869.7L1202.1,853.9L1210.2,825.7L1218.2,895.4L1226.2,904L1234.3,903.8L1242.3,903.4L1250.4,918.6L1258.4,952.3L1266.4,934.1L1274.5,950.9L1282.5,901.4L1290.6,916.6L1298.6,934.1L1306.6,960L1314.7,941.8L1322.7,945.9L1330.8,931.7L1338.8,963.6L1346.8,958.6L1354.9,962.6L1362.9,950.9L1371,928.1L1379,922.6L1387,931.7L1395.1,932.7L1403.1,937.8L1411.2,925.7L1419.2,912.5L1427.2,919.2L1435.3,888.3L1443.3,872.7L1451.4,866.7L1459.4,868.5L1467.4,878.8L1475.5,877.6L1483.5,860L1491.6,865.7L1499.6,858.4L1507.6,884.6L1515.7,885.3L1523.7,892.7L1531.8,934.1L1539.8,943.2L1547.8,920.6L1555.9,971.1L1563.9,960L1572,960L1580,921.6L1588,892.7L1596.1,896.4L1604.1,849.5L1612.2,834.7L1620.2,823L1628.2,821.6L1636.3,813.5L1644.3,806.5L1652.4,857L1660.4,841.4L1668.4,864L1676.5,944.8L1684.5,958.6L1692.6,921L1700.6,919.6L1700.6,819L20.2,819z" fill="url(#gob)" clip-path="url(#c70)"/>
<path d="M20,947.3C22.7,947 30.8,946.5 36.2,945.9C41.5,945.2 46.9,945.6 52.3,943.2C57.7,940.9 63.1,934.8 68.5,931.7C73.9,928.6 80.6,926.4 84.6,924.6C88.7,922.9 88.7,921.6 92.7,921C96.8,920.4 103.5,920.9 108.9,921C114.3,921.1 121,921.8 125.1,921.6C129.1,921.5 130.4,920.2 133.1,920.2C135.8,920.2 136.2,921.4 141.2,921.6C146.3,921.8 157,920 163.4,921.2C169.8,922.4 175.2,926.3 179.6,928.7C184,931.1 185.3,934 189.7,935.8C194.1,937.5 201.8,938.9 205.9,939.2C209.9,939.5 209.9,939.2 213.9,937.8C218,936.4 226.1,932.3 230.1,930.7C234.1,929.1 235.5,928.6 238.2,928.1C240.9,927.6 242.2,928.5 246.3,927.7C250.3,926.9 257.4,924.5 262.4,923.2C267.5,922 272.5,921.5 276.6,920C280.6,918.5 283.8,915.9 286.7,913.9C289.5,912 291.2,911.2 293.7,908.5C296.3,905.7 299,900.6 301.8,897.4C304.7,894.2 308,892 310.9,889.3C313.8,886.6 314.9,884.4 319,881.2C323,878 329.8,873.7 335.2,870.1C340.5,866.5 345.3,863.4 351.3,859.6C357.4,855.8 366.5,850.4 371.5,847.3C376.6,844.1 378.6,842.6 381.6,840.8C384.6,839.1 387,837.8 389.7,836.8C392.4,835.7 394.9,834.9 397.8,834.3C400.6,833.7 404.2,833.2 406.9,833.1C409.6,833.1 411.4,833.9 413.9,834.1C416.5,834.3 419.3,834.7 422,834.3C424.7,833.9 426.4,832.7 430.1,831.7C433.8,830.7 440.2,829.4 444.2,828.3C448.2,827.2 451.1,825.7 454.1,825.1C457.1,824.4 458.2,824.8 462.2,824.2C466.3,823.7 474,822.1 478.4,821.6C482.8,821.2 484.8,821.6 488.5,821.6C492.2,821.6 497.2,822.1 500.6,821.6C504,821.1 505.3,819.8 508.7,818.6C512.1,817.4 516.4,816 520.8,814.5C525.2,813.1 531.2,810.9 534.9,810.1C538.7,809.3 540,809.2 543,809.9C546.1,810.6 549.8,813 553.1,814.5C556.5,816.1 559.5,818.2 563.2,819.2C566.9,820.2 570.6,819.6 575.4,820.6C580.1,821.6 587.1,823.4 591.5,825.1C595.9,826.7 598.2,828.6 601.6,830.7C605,832.8 608,835.1 611.7,837.8C615.4,840.5 620.1,844.3 623.8,846.9C627.5,849.4 630.9,850.9 633.9,852.9C637,854.9 639.7,857 642,859C644.4,861 645.7,862.1 648.1,865.1C650.4,868 653.1,873.8 656.2,876.6C659.2,879.4 662.2,879.9 666.3,881.8C670.3,883.7 675.7,886.6 680.4,887.9C685.1,889.1 689.5,888.7 694.5,889.3C699.6,889.9 706,891 710.7,891.3C715.4,891.6 718.5,891 722.8,891.3C727.2,891.6 732.3,892.3 737,892.9C741.7,893.5 747.4,894.4 751.1,894.9C754.8,895.5 756.5,896.1 759.2,896C761.9,895.9 764.2,894.2 767.3,894.3C770.3,894.5 774,895.5 777.4,896.8C780.7,898 784.1,900.1 787.5,902C790.8,904 794.2,906.7 797.6,908.5C800.9,910.3 804.6,912.1 807.7,912.9C810.7,913.8 811.7,913.9 815.8,913.5C819.8,913.1 826.5,911.7 831.9,910.5C837.3,909.3 842.7,907.4 848.1,906.5C853.5,905.6 860.2,906 864.2,905.1C868.2,904.1 868.8,902.4 872.1,900.8C875.5,899.2 880.2,897.3 884.2,895.4C888.3,893.4 893,891.2 896.4,889.3C899.7,887.3 901.4,884.9 904.4,883.6C907.5,882.4 910.5,882.5 914.5,881.8C918.6,881.1 924.3,881.2 928.7,879.6C933.1,878 936.8,874.7 940.8,872.1C944.8,869.5 948.6,867.4 952.9,864C957.3,860.7 962.7,855.1 967.1,851.9C971.4,848.7 974.8,847 979.2,844.8C983.6,842.7 988.3,840.9 993.3,838.8C998.4,836.7 1004.8,833.9 1009.5,832.3C1014.2,830.7 1017.6,830.6 1021.6,829.3C1025.7,827.9 1030,825.1 1033.7,824.2C1037.4,823.4 1040.5,823.5 1043.8,824.2C1047.2,825 1050.2,826.9 1053.9,828.7C1057.6,830.4 1062.7,833.1 1066.1,834.7C1069.4,836.4 1071.4,837 1074.1,838.4C1076.8,839.8 1079.5,841.9 1082.2,843.2C1084.9,844.6 1087.6,845.3 1090.3,846.5C1093,847.6 1095,847.9 1098.4,850.3C1101.8,852.7 1106.5,857.2 1110.5,861C1114.5,864.8 1119.3,870.3 1122.6,873.1C1126,876 1128,876.5 1130.7,878.2C1133.4,879.9 1136.1,881.2 1138.8,883.2C1141.5,885.3 1143.8,888.3 1146.9,890.3C1149.9,892.3 1153.3,894.1 1157,895.4C1160.7,896.6 1165.4,897.1 1169.1,898C1172.8,898.9 1175.5,900.1 1179.2,900.8C1182.9,901.5 1187.6,902 1191.3,902C1195,902 1198,901.6 1201.4,900.8C1204.8,900 1208.5,897.8 1211.5,897C1214.5,896.2 1216.9,896.7 1219.6,896C1222.3,895.3 1225,893.8 1227.7,892.7C1230.4,891.6 1233.1,890.1 1235.8,889.3C1238.5,888.5 1241.1,888 1243.8,887.9C1246.5,887.8 1248.2,888 1251.9,888.7C1255.6,889.4 1262.4,890.6 1266.1,891.9C1269.8,893.3 1271.4,895.8 1274.1,896.8C1276.8,897.7 1279.6,897.3 1282.2,897.8C1284.9,898.2 1287.1,897.9 1290.1,899.4C1293.1,900.8 1296.8,903.8 1300.2,906.5C1303.6,909.1 1306.6,912 1310.3,915.2C1314,918.4 1319.1,923.5 1322.4,925.7C1325.8,927.8 1327.5,926.9 1330.5,928.3C1333.5,929.6 1336.9,931.7 1340.6,933.7C1344.3,935.8 1349,938.8 1352.7,940.4C1356.4,942 1359.1,943.2 1362.8,943.2C1366.5,943.3 1370.9,941.4 1374.9,940.8C1379,940.2 1383.4,939.2 1387.1,939.4C1390.8,939.6 1394.1,941.2 1397.2,941.8C1400.2,942.5 1402.6,943.1 1405.3,943.2C1407.9,943.3 1410.6,943.1 1413.3,942.4C1416,941.8 1418.7,940 1421.4,939.2C1424.1,938.4 1425.8,939 1429.5,937.4C1433.2,935.8 1439.3,932.8 1443.6,929.7C1448,926.6 1451.7,922 1455.8,918.6C1459.8,915.2 1463.8,912.4 1467.9,909.5C1471.9,906.6 1476.3,903.6 1480,901.4C1483.7,899.2 1486.7,898.2 1490.1,896.4C1493.5,894.5 1496.8,892.1 1500.2,890.3C1503.6,888.6 1507.3,887.2 1510.3,885.9C1513.3,884.5 1516,883.1 1518.4,882.2C1520.7,881.4 1521.8,880.7 1524.4,880.8C1527.1,880.9 1530.8,881.8 1534.5,882.6C1538.2,883.5 1542.6,883.6 1546.7,885.9C1550.7,888.1 1554.7,893 1558.8,896.4C1562.8,899.7 1567.5,903.9 1570.9,906.1C1574.3,908.2 1576.3,908.8 1579,909.5C1581.7,910.2 1584.2,909.9 1587.1,910.5C1589.9,911.1 1593.5,912.7 1596.2,912.9C1598.9,913.2 1600.4,912.6 1603.2,912.1C1606.1,911.6 1610,911.2 1613.3,909.9C1616.7,908.6 1619.7,906.7 1623.4,904.4C1627.1,902.2 1632.2,899.2 1635.6,896.4C1638.9,893.5 1640.6,890.1 1643.6,887.3C1646.7,884.4 1650.7,881.6 1653.7,879.2C1656.8,876.8 1659.5,874.7 1661.8,872.7C1664.2,870.7 1665.5,868.2 1667.9,867.1C1670.2,866 1673.3,866.2 1676,866.1C1678.7,865.9 1681.3,866.1 1684,866.1C1686.7,866.1 1689.4,865.7 1692.1,866.1C1694.9,866.4 1699.2,867.7 1700.6,868.1" stroke="#fdd835" stroke-width="2" fill="none"/>
<path d="M20.2,940.8L28.3,908.9L36.3,926.7L44.4,927.7L52.4,929.3L60.4,910.5L68.5,898.8L76.5,899.8L84.6,904L92.6,901.4L100.6,928.1L108.7,942.8L116.7,944.8L124.8,942.8L132.8,913.9L140.8,937.4L148.9,930.3L156.9,922.6L165,926.1L173,969.1L181,960.4L189.1,980.6L197.1,916L205.2,937.8L213.2,905.9L221.2,893.7L229.3,905.5L237.3,899.4L245.4,907.1L253.4,903.8L261.4,895.8L269.5,900.4L277.5,894.7L285.6,893.7L293.6,871.1L301.6,830.1L309.7,828.7L317.7,826.7L325.8,822.6L333.8,823L341.8,836.2L349.9,826.7L357.9,838.4L366,839.8L374,820.6L382,818L390.1,837.8L398.1,862L406.2,857.6L414.2,837.8L422.2,835.8L430.3,792.7L438.3,797.4L446.4,787.9L454.4,799.4L462.4,821.2L470.5,812.1L478.5,821.6L486.6,821.6L494.6,826.7L502.6,832.1L510.7,805.5L518.7,821.6L526.8,811.5L534.8,793.3L542.8,782.2L550.9,848.9L558.9,845.5L567,835.8L575,832.7L583,840.8L591.1,858L599.1,887.3L607.2,907.5L615.2,900.4L623.2,888.3L631.3,885.9L639.3,893.3L647.4,902.4L655.4,941.8L663.4,905.9L671.5,892.3L679.5,890.3L687.6,847.3L695.6,847.3L703.6,870.1L711.7,905.5L719.7,901.4L727.8,909.1L735.8,906.5L743.8,892.3L751.9,920L759.9,915.6L768,918.6L776,934.7L784,947.9L792.1,961L800.1,901.4L808.2,893.3L816.2,879.8L824.2,885.3L832.3,883.8L840.3,881.2L848.4,868.5L856.4,888.3L864.4,909.5L872.5,871.1L880.5,863.6L888.6,887.3L896.6,884.2L904.6,872.7L912.7,887.3L920.7,879.2L928.8,852.9L936.8,814.1L944.8,804.8L952.9,807.1L960.9,796.4L969,791.9L977,827.7L985,820.6L993.1,817.2L1001.1,838.8L1009.2,840.4L1017.2,850.3L1025.2,848.9L1033.3,825.7L1041.3,845.9L1049.4,853.5L1057.4,866.1L1065.4,862.4L1073.5,845.5L1081.5,870.1L1089.6,872.1L1097.6,874.1L1105.6,909.5L1113.7,944.2L1121.7,953.3L1129.8,925.7L1137.8,912.9L1145.8,925.7L1153.9,911.5L1161.9,879.2L1170,891.3L1178,894.3L1186,860L1194.1,869.7L1202.1,853.9L1210.2,825.7L1218.2,895.4L1226.2,904L1234.3,903.8L1242.3,903.4L1250.4,918.6L1258.4,952.3L1266.4,934.1L1274.5,950.9L1282.5,901.4L1290.6,916.6L1298.6,934.1L1306.6,960L1314.7,941.8L1322.7,945.9L1330.8,931.7L1338.8,963.6L1346.8,958.6L1354.9,962.6L1362.9,950.9L1371,928.1L1379,922.6L1387,931.7L1395.1,932.7L1403.1,937.8L1411.2,925.7L1419.2,912.5L1427.2,919.2L1435.3,888.3L1443.3,872.7L1451.4,866.7L1459.4,868.5L1467.4,878.8L1475.5,877.6L1483.5,860L1491.6,865.7L1499.6,858.4L1507.6,884.6L1515.7,885.3L1523.7,892.7L1531.8,934.1L1539.8,943.2L1547.8,920.6L1555.9,971.1L1563.9,960L1572,960L1580,921.6L1588,892.7L1596.1,896.4L1604.1,849.5L1612.2,834.7L1620.2,823L1628.2,821.6L1636.3,813.5L1644.3,806.5L1652.4,857L1660.4,841.4L1668.4,864L1676.5,944.8L1684.5,958.6L1692.6,921L1700.6,919.6" stroke="#7e57c2" stroke-width="2" fill="none" stroke-linejoin="round"/>
<line x1="668" y1="755.3" x2="1925" y2="911" stroke="#000" stroke-width="2.3" stroke-dasharray="2.3 3.75"/>
</g>
<g clip-path="url(#cd)">
<line x1="20" y1="1152" x2="1987" y2="1152" stroke="#787b86" stroke-opacity="0.6" stroke-width="2" stroke-dasharray="10 12"/>
<text x="37.2" y="1063" font-size="24" fill="#131722" textLength="234.8" lengthAdjust="spacing">MACD (12, 26, close)</text>
<text x="288.5" y="1063" font-size="24" fill="#ff5252" textLength="85.5" lengthAdjust="spacing">−805.11</text>
<text x="390" y="1063" font-size="24" fill="#2962ff" textLength="77.5" lengthAdjust="spacing">424.82</text>
<text x="483.4" y="1063" font-size="24" fill="#f23645" textLength="95" lengthAdjust="spacing">1,229.93</text>
<path d="M17,1145h6v7h-6zM25,1138h6v14h-6zM33,1138h6v14h-6zM57,1136h6v16h-6zM65,1132h6v20h-6zM74,1130h6v22h-6zM130,1149h6v3h-6zM154,1150h6v2h-6zM162,1150h6v2h-6zM210,1151h6v1h-6zM218,1144h6v8h-6zM226,1142h6v10h-6zM234,1139h6v13h-6zM258,1138h6v14h-6zM291,1137h6v15h-6zM299,1126h6v26h-6zM307,1120h6v32h-6zM315,1118h6v34h-6zM323,1118h6v34h-6zM411,1151h6v1h-6zM427,1142h6v10h-6zM435,1138h6v14h-6zM443,1134h6v18h-6zM508,1151h6v1h-6zM532,1148h6v4h-6zM540,1143h6v9h-6zM693,1152h6v1h-6zM701,1152h6v1h-6zM821,1151h6v1h-6zM829,1150h6v2h-6zM837,1149h6v3h-6zM845,1147h6v5h-6zM869,1146h6v6h-6zM878,1144h6v8h-6zM902,1146h6v6h-6zM926,1145h6v7h-6zM934,1136h6v16h-6zM942,1129h6v23h-6zM950,1126h6v26h-6zM958,1124h6v28h-6zM966,1123h6v29h-6zM1030,1152h6v1h-6zM1191,1150h6v2h-6zM1199,1146h6v6h-6zM1207,1139h6v13h-6zM1400,1151h6v1h-6zM1408,1149h6v3h-6zM1416,1146h6v6h-6zM1424,1145h6v7h-6zM1432,1141h6v11h-6zM1440,1136h6v16h-6zM1448,1132h6v20h-6zM1456,1131h6v21h-6zM1481,1134h6v18h-6zM1601,1144h6v8h-6zM1609,1135h6v17h-6zM1617,1127h6v25h-6zM1625,1124h6v28h-6zM1633,1121h6v31h-6zM1641,1120h6v32h-6z" fill="#26a69a"/>
<path d="M41,1138h6v14h-6zM49,1139h6v13h-6zM82,1131h6v21h-6zM90,1131h6v21h-6zM98,1137h6v15h-6zM106,1144h6v8h-6zM114,1149h6v3h-6zM122,1151h6v1h-6zM138,1151h6v1h-6zM146,1151h6v1h-6zM242,1139h6v13h-6zM250,1139h6v13h-6zM266,1139h6v13h-6zM275,1139h6v13h-6zM283,1140h6v12h-6zM331,1119h6v33h-6zM339,1124h6v28h-6zM347,1127h6v25h-6zM355,1131h6v21h-6zM363,1136h6v16h-6zM371,1136h6v16h-6zM379,1138h6v14h-6zM387,1141h6v11h-6zM395,1147h6v5h-6zM403,1151h6v1h-6zM419,1151h6v1h-6zM451,1134h6v18h-6zM459,1138h6v14h-6zM467,1140h6v12h-6zM476,1144h6v8h-6zM484,1147h6v5h-6zM492,1151h6v1h-6zM548,1149h6v3h-6zM853,1147h6v5h-6zM861,1149h6v3h-6zM886,1145h6v7h-6zM894,1146h6v6h-6zM910,1148h6v4h-6zM918,1148h6v4h-6zM974,1127h6v25h-6zM982,1131h6v21h-6zM990,1134h6v18h-6zM998,1139h6v13h-6zM1006,1144h6v8h-6zM1014,1149h6v3h-6zM1215,1144h6v8h-6zM1223,1149h6v3h-6zM1231,1151h6v1h-6zM1464,1133h6v19h-6zM1472,1134h6v18h-6zM1489,1135h6v17h-6zM1497,1136h6v16h-6zM1505,1139h6v13h-6zM1513,1141h6v11h-6zM1521,1146h6v6h-6zM1529,1151h6v1h-6zM1649,1126h6v26h-6zM1657,1129h6v23h-6zM1665,1134h6v18h-6z" fill="#b2dfdb"/>
<path d="M170,1152h6v7h-6zM178,1152h6v9h-6zM186,1152h6v15h-6zM500,1152h6v3h-6zM516,1152h6v2h-6zM556,1152h6v2h-6zM564,1152h6v3h-6zM572,1152h6v4h-6zM580,1152h6v6h-6zM588,1152h6v10h-6zM596,1152h6v16h-6zM604,1152h6v23h-6zM612,1152h6v26h-6zM644,1152h6v23h-6zM652,1152h6v28h-6zM709,1152h6v4h-6zM717,1152h6v6h-6zM725,1152h6v9h-6zM733,1152h6v10h-6zM749,1152h6v11h-6zM757,1152h6v12h-6zM765,1152h6v13h-6zM773,1152h6v15h-6zM781,1152h6v17h-6zM789,1152h6v20h-6zM1022,1152h6v1h-6zM1038,1152h6v2h-6zM1046,1152h6v4h-6zM1054,1152h6v8h-6zM1062,1152h6v9h-6zM1079,1152h6v10h-6zM1087,1152h6v11h-6zM1095,1152h6v12h-6zM1103,1152h6v16h-6zM1111,1152h6v23h-6zM1119,1152h6v27h-6zM1239,1152h6v3h-6zM1247,1152h6v6h-6zM1255,1152h6v14h-6zM1263,1152h6v15h-6zM1271,1152h6v20h-6zM1296,1152h6v12h-6zM1304,1152h6v19h-6zM1336,1152h6v19h-6zM1344,1152h6v20h-6zM1352,1152h6v20h-6zM1537,1152h6v6h-6zM1545,1152h6v7h-6zM1553,1152h6v14h-6zM1561,1152h6v17h-6zM1569,1152h6v17h-6zM1673,1152h6v2h-6zM1682,1152h6v19h-6zM1690,1152h6v21h-6zM1698,1152h6v22h-6z" fill="#ff5252"/>
<path d="M194,1152h6v7h-6zM202,1152h6v7h-6zM524,1152h6v1h-6zM620,1152h6v25h-6zM628,1152h6v24h-6zM636,1152h6v23h-6zM660,1152h6v25h-6zM668,1152h6v21h-6zM677,1152h6v17h-6zM685,1152h6v7h-6zM741,1152h6v9h-6zM797,1152h6v13h-6zM805,1152h6v7h-6zM813,1152h6v1h-6zM1070,1152h6v8h-6zM1127,1152h6v26h-6zM1135,1152h6v24h-6zM1143,1152h6v22h-6zM1151,1152h6v19h-6zM1159,1152h6v12h-6zM1167,1152h6v8h-6zM1175,1152h6v6h-6zM1183,1152h6v1h-6zM1280,1152h6v13h-6zM1288,1152h6v11h-6zM1312,1152h6v19h-6zM1320,1152h6v19h-6zM1328,1152h6v16h-6zM1360,1152h6v16h-6zM1368,1152h6v10h-6zM1376,1152h6v5h-6zM1384,1152h6v2h-6zM1392,1152h6v1h-6zM1577,1152h6v14h-6zM1585,1152h6v4h-6zM1593,1152h6v2h-6z" fill="#ffcdd2"/>
<path d="M20,1221L28.1,1209.9L40.2,1203.8L52.3,1199.8L60.4,1192.7L68.5,1183.6L76.6,1176.6L84.6,1171.5L92.7,1167.1L100.8,1169.5L108.9,1173.9L117,1178L123,1179.6L131.1,1176.6L141.2,1178.6L151.3,1177.6L163.4,1176.2L171.5,1183.2L181.6,1190.7L189.7,1200.8L197.8,1194.7L205.9,1196.2L213.9,1188.7L222,1179L230.1,1174.5L238.2,1168.5L246.3,1165.5L254.3,1162L262.4,1157.8L270.5,1155.4L278.6,1151.9L286.7,1148.7L292.7,1142.2L300.8,1127.1L308.9,1112.9L317,1100.8L325.1,1090.7L333.1,1084.6L341.2,1081.6L349.3,1078.6L357.4,1078L365.5,1078.6L373.5,1074.9L381.6,1072.5L389.7,1074.1L397.8,1078L405.9,1080.6L413.9,1080.6L422,1080.2L430.1,1068.5L438.2,1061.4L446.3,1056.4L450.1,1047.3L462.2,1045.9L470.3,1047.3L480.4,1050.3L490.5,1054.3L500.6,1057.4L510.7,1058.4L520.8,1057.4L528.9,1054.7L534.9,1050.3L542,1045.3L551.1,1050.3L561.2,1054.3L571.3,1056L581.4,1059.4L589.5,1064.8L597.6,1074.5L607.7,1088.7L615.8,1096.8L623.8,1101.4L631.9,1105.9L640,1110.9L648.1,1117.4L656.2,1129.1L664.2,1132.5L672.3,1133.1L680.4,1133.1L688.5,1123L694.5,1118.4L702.6,1115.6L710.7,1121L718.8,1124.6L726.9,1129.1L734.9,1132.7L743,1133.5L751.1,1138.2L761.2,1143.2L769.3,1147.3L777.4,1153.9L785.5,1160.4L792.5,1164.8L801.6,1160.8L809.7,1154.9L817.8,1150.3L825.9,1146.9L833.9,1143.6L840,1142.2L848.1,1137.8L856.2,1137.2L864,1140.2L872.1,1135.8L880.2,1130.7L888.3,1130.7L896.4,1130.5L904.4,1128.7L912.5,1129.1L920.6,1128.7L928.7,1124L936.8,1110.9L944.8,1097.8L952.9,1088.7L961,1079L969.1,1070.1L977.2,1068.9L985.3,1066.9L993.3,1064.8L1001.4,1066.9L1009.5,1069.9L1017.6,1074.1L1025.7,1077.2L1033.7,1078.2L1041.8,1080.6L1049.9,1084.2L1058,1088.7L1066.1,1092.3L1074.1,1093.3L1082.2,1097.4L1090.3,1101.4L1098.4,1105.5L1106.5,1112.9L1114.5,1124L1122.6,1135.8L1130.7,1140.6L1138.8,1143.6L1146.9,1147.3L1153.9,1148.7L1162,1144.8L1170.1,1143.2L1178.2,1142.6L1186.3,1137.8L1194.3,1133.7L1202.4,1128.7L1210.1,1118.4L1218.6,1120.6L1226.7,1124.6L1234.7,1127.5L1242.8,1131.1L1249.9,1135.8L1258.4,1147.3L1266.5,1153.3L1274.5,1160.8L1282.6,1158L1286.1,1158.4L1298.2,1163L1306.3,1173.5L1314.3,1177.6L1322.4,1182L1330.5,1182.6L1338.6,1191.7L1346.7,1196.8L1354.7,1201.2L1361.8,1201.8L1370.9,1197.8L1379,1193.7L1387.1,1192.3L1395.2,1190.7L1403.2,1188.3L1411.3,1185.7L1419.4,1181.2L1427.5,1179.2L1435.6,1171.5L1443.6,1162L1451.7,1153.3L1459.8,1146.7L1467.9,1143.6L1476,1140.8L1484,1135.2L1492.1,1132.1L1499.6,1129.1L1508.3,1129.5L1516.4,1130.1L1524.4,1131.5L1532.5,1138.2L1540.6,1145.3L1548.7,1147.7L1556.8,1157.4L1564.8,1165.5L1572.9,1171.1L1581,1170.1L1589.1,1164.8L1597.2,1161L1605.3,1149.3L1613.3,1134.1L1621.4,1119L1629.5,1108.9L1637.6,1098.8L1643.6,1090.7L1651.7,1090.3L1659.8,1086.7L1667.9,1088.3L1676,1108.9L1684,1129.1L1692.1,1136.2L1700.6,1141.6" stroke="#2962ff" stroke-width="2" fill="none" stroke-linejoin="round"/>
<path d="M20,1227.1C23.4,1225.6 33.5,1221 40.2,1218C46.9,1214.9 54.3,1212.3 60.4,1208.9C66.5,1205.5 71.2,1201.4 76.6,1197.8C82,1194.2 88.7,1189.6 92.7,1187.3C96.8,1184.9 97.8,1184.6 100.8,1183.6C103.8,1182.6 106.9,1181.7 110.9,1181.2C114.9,1180.7 120,1180.8 125.1,1180.6C130.1,1180.4 135.2,1180.5 141.2,1180.2C147.3,1179.9 156.4,1178.7 161.4,1178.6C166.5,1178.5 168.1,1179 171.5,1179.6C174.9,1180.2 178.2,1181.1 181.6,1182.2C185,1183.3 188.4,1185 191.7,1186.1C195.1,1187.1 198.5,1188.1 201.8,1188.7C205.2,1189.2 208.6,1189.5 211.9,1189.3C215.3,1189.1 218.7,1188.2 222,1187.3C225.4,1186.3 228.1,1185.3 232.1,1183.6C236.2,1182 241.2,1179.8 246.3,1177.6C251.3,1175.4 257,1172.8 262.4,1170.5C267.8,1168.2 273.9,1165.9 278.6,1163.8C283.3,1161.8 287.3,1160.2 290.7,1158.4C294.1,1156.6 295.8,1155.5 298.8,1152.9C301.8,1150.4 305.5,1146.5 308.9,1143.2C312.3,1139.9 315.6,1136.7 319,1133.1C322.4,1129.6 325.7,1125.6 329.1,1122C332.5,1118.5 335.8,1114.9 339.2,1111.9C342.6,1108.9 345.9,1106.2 349.3,1103.8C352.7,1101.5 355.7,1099.8 359.4,1097.8C363.1,1095.8 367.5,1093.6 371.5,1091.7C375.6,1089.9 379.9,1087.9 383.6,1086.7C387.3,1085.4 390.4,1084.6 393.7,1084C397.1,1083.4 400.5,1083.2 403.8,1083C407.2,1082.9 410.6,1083.3 413.9,1083C417.3,1082.8 420.7,1082.5 424,1081.6C427.4,1080.7 430.8,1079.1 434.1,1077.6C437.5,1076.1 441.6,1074.1 444.2,1072.5C446.9,1070.9 447.1,1069.9 450.1,1068.1C453.1,1066.3 458.2,1063.4 462.2,1061.8C466.3,1060.2 470.3,1059.2 474.3,1058.4C478.4,1057.6 482.1,1057.1 486.5,1057C490.8,1056.8 495.6,1057.3 500.6,1057.4C505.7,1057.4 511.7,1057.4 516.8,1057.4C521.8,1057.3 526.2,1057.4 530.9,1057C535.6,1056.5 540.3,1055.3 545.1,1054.7C549.8,1054.2 554.5,1053.8 559.2,1053.7C563.9,1053.7 569,1053.9 573.3,1054.3C577.7,1054.8 581.8,1055.5 585.5,1056.4C589.2,1057.2 592.2,1057.9 595.6,1059.4C598.9,1060.8 602,1062.5 605.7,1065.1C609.4,1067.6 613.4,1071.3 617.8,1074.5C622.2,1077.7 627.5,1081.4 631.9,1084.2C636.3,1087.1 640,1088.8 644,1091.7C648.1,1094.6 652.5,1099 656.2,1101.8C659.9,1104.7 663.2,1106.9 666.3,1108.9C669.3,1110.9 671.6,1112.5 674.3,1113.9C677,1115.4 679.4,1116.6 682.4,1117.4C685.5,1118.1 689.2,1118.5 692.5,1118.6C695.9,1118.7 698.9,1117.9 702.6,1118C706.3,1118 710.4,1118.3 714.7,1119C719.1,1119.7 724.2,1121 728.9,1122C733.6,1123 738.3,1123.9 743,1125.1C747.7,1126.2 752.5,1127.6 757.2,1129.1C761.9,1130.6 766.9,1132.3 771.3,1134.1C775.7,1136 779.7,1138.2 783.4,1140.2C787.1,1142.2 790.5,1144.7 793.5,1146.3C796.6,1147.8 798.6,1148.5 801.6,1149.3C804.6,1150.1 808.4,1150.7 811.7,1150.9C815.1,1151.1 818.1,1150.7 821.8,1150.3C825.5,1149.9 829.6,1149.1 833.9,1148.3C838.3,1147.4 843.4,1146.1 848.1,1145.3C852.8,1144.4 858.2,1144 862.2,1143.2C866.2,1142.5 868.5,1141.6 872.1,1140.8C875.8,1140 879.5,1139.1 884.2,1138.2C889,1137.2 895,1136.1 900.4,1135.2C905.8,1134.2 911.9,1133.6 916.6,1132.7C921.3,1131.9 925.3,1131.2 928.7,1130.1C932.1,1129 933.7,1127.9 936.8,1126.1C939.8,1124.2 943.5,1121.7 946.9,1119C950.2,1116.3 953.3,1113.3 957,1109.9C960.7,1106.5 965.1,1101.6 969.1,1098.4C973.1,1095.2 977.2,1093.2 981.2,1090.7C985.3,1088.2 989.3,1085.6 993.3,1083.6C997.4,1081.7 1001.4,1080.1 1005.5,1079.2C1009.5,1078.2 1012.9,1078.2 1017.6,1078C1022.3,1077.8 1028.4,1077.7 1033.7,1078C1039.1,1078.2 1044.5,1078.7 1049.9,1079.6C1055.3,1080.5 1060.7,1082.2 1066.1,1083.6C1071.4,1085.1 1077.2,1086.6 1082.2,1088.1C1087.3,1089.6 1092,1090.9 1096.4,1092.7C1100.7,1094.5 1104.4,1096.3 1108.5,1098.8C1112.5,1101.3 1116.6,1104.7 1120.6,1107.9C1124.6,1111 1128.7,1114.5 1132.7,1117.6C1136.8,1120.6 1141.1,1123.8 1144.8,1126.1C1148.6,1128.3 1151.2,1129.7 1154.9,1131.1C1158.7,1132.6 1163,1133.8 1167.1,1134.7C1171.1,1135.7 1175.2,1136.5 1179.2,1136.8C1183.2,1137.1 1187.3,1137 1191.3,1136.6C1195.4,1136.1 1199.7,1135.1 1203.4,1134.1C1207.1,1133.2 1210.2,1131.5 1213.5,1130.7C1216.9,1129.9 1219.9,1129.4 1223.6,1129.1C1227.3,1128.8 1231.7,1128.5 1235.8,1128.7C1239.8,1128.9 1243.8,1129 1247.9,1130.1C1251.9,1131.2 1256,1133.3 1260,1135.2C1264,1137 1268.1,1139.5 1272.1,1141.2C1276.2,1143 1280.9,1144.3 1284.2,1145.7C1287.6,1147 1288.5,1147.3 1292.1,1149.3C1295.8,1151.2 1301.5,1154.6 1306.3,1157.4C1311,1160.1 1315.4,1163 1320.4,1165.9C1325.5,1168.7 1331.5,1171.8 1336.6,1174.5C1341.6,1177.3 1346,1180.1 1350.7,1182.2C1355.4,1184.3 1360.1,1186.1 1364.8,1187.3C1369.6,1188.5 1374.3,1188.9 1379,1189.3C1383.7,1189.7 1388.4,1189.7 1393.1,1189.7C1397.8,1189.7 1402.6,1189.7 1407.3,1189.3C1412,1188.9 1417,1188.1 1421.4,1187.3C1425.8,1186.4 1429.5,1185.5 1433.5,1184C1437.6,1182.6 1441.6,1180.7 1445.7,1178.6C1449.7,1176.4 1453.7,1173.6 1457.8,1171.1C1461.8,1168.6 1465.9,1165.9 1469.9,1163.4C1473.9,1161 1478,1158.7 1482,1156.4C1486.1,1154 1490.1,1151.5 1494.1,1149.3C1498.2,1147.1 1502.6,1144.8 1506.3,1143.2C1510,1141.6 1513,1140.6 1516.4,1139.8C1519.7,1139 1522.8,1138.3 1526.5,1138.2C1530.2,1138.1 1534.5,1138.5 1538.6,1139.2C1542.6,1139.9 1546.7,1140.8 1550.7,1142.2C1554.7,1143.6 1559.1,1145.8 1562.8,1147.7C1566.5,1149.5 1569.6,1151.8 1572.9,1153.3C1576.3,1154.9 1579.7,1156.1 1583,1157C1586.4,1157.8 1589.8,1158.4 1593.1,1158.4C1596.5,1158.4 1599.9,1158 1603.2,1157C1606.6,1156 1610,1154.6 1613.3,1152.3C1616.7,1150 1619.7,1146.8 1623.4,1143.2C1627.1,1139.7 1631.5,1135.2 1635.6,1131.1C1639.6,1127.1 1643.6,1122.5 1647.7,1119C1651.7,1115.5 1656.4,1112 1659.8,1109.9C1663.2,1107.8 1665.2,1107 1667.9,1106.5C1670.6,1106 1672.9,1106 1676,1106.9C1679,1107.8 1682,1109.6 1686.1,1111.9C1690.2,1114.3 1698.2,1119.5 1700.6,1121" stroke="#f23645" stroke-width="4.5" fill="none" stroke-linecap="round" stroke-linejoin="round"/>
</g>
<line x1="20" y1="755" x2="2158" y2="755" stroke="#e0e3eb" stroke-width="2"/>
<line x1="20" y1="1022" x2="2158" y2="1022" stroke="#e0e3eb" stroke-width="2"/>
<line x1="20" y1="1249" x2="2158" y2="1249" stroke="#e0e0e3" stroke-width="2"/>
<line x1="1987.5" y1="54" x2="1987.5" y2="1304" stroke="#d9d9dc" stroke-width="2"/>
<g clip-path="url(#ca1)">
<text x="2006" y="137.7" font-size="23.5" fill="#131722" textLength="130.6" lengthAdjust="spacing">132,000.00</text>
<text x="2006" y="206.2" font-size="23.5" fill="#131722" textLength="130.6" lengthAdjust="spacing">128,000.00</text>
<text x="2006" y="274.7" font-size="23.5" fill="#131722" textLength="130.6" lengthAdjust="spacing">124,000.00</text>
<text x="2006" y="616.9" font-size="23.5" fill="#131722" textLength="130.6" lengthAdjust="spacing">104,000.00</text>
<text x="2006" y="685.4" font-size="23.5" fill="#131722" textLength="130.6" lengthAdjust="spacing">100,000.00</text>
<text x="2006" y="753.9" font-size="23.5" fill="#131722" textLength="115.9" lengthAdjust="spacing">96,000.00</text>
</g>
<rect x="1994" y="62" width="156" height="52" rx="9" fill="#fff" stroke="#ebebeb" stroke-width="1.5"/>
<text x="2012.5" y="95.2" font-size="24" fill="#131722" textLength="63" lengthAdjust="spacing">USDT</text>
<path d="M1988,213.5H2146a4,4 0 0 1 4,4V243a4,4 0 0 1 -4,4H1988z" fill="#000"/>
<text x="2006" y="237.4" font-size="23.5" fill="#fff" textLength="130.6" lengthAdjust="spacing">126,199.00</text>
<path d="M1988,300H2146a4,4 0 0 1 4,4V329.5a4,4 0 0 1 -4,4H1988z" fill="#000"/>
<text x="2006" y="323.9" font-size="23.5" fill="#fff" textLength="130.6" lengthAdjust="spacing">120,000.00</text>
<path d="M1988,333.5H2146a4,4 0 0 1 4,4V363a4,4 0 0 1 -4,4H1988z" fill="#000"/>
<text x="2006" y="357.4" font-size="23.5" fill="#fff" textLength="130.6" lengthAdjust="spacing">116,000.00</text>
<path d="M1988,369H2146a4,4 0 0 1 4,4V397.5a4,4 0 0 1 -4,4H1988z" fill="#ff2a2a"/>
<text x="2006" y="392.4" font-size="23.5" fill="#fff" textLength="130.6" lengthAdjust="spacing">115,627.03</text>
<path d="M1988,403H2146a4,4 0 0 1 4,4V460a4,4 0 0 1 -4,4H1988z" fill="#26a69a"/>
<text x="2006" y="426.2" font-size="23.5" fill="#fff" textLength="130.6" lengthAdjust="spacing">115,138.36</text>
<text x="2006" y="454.2" font-size="23.5" fill="#fff" textLength="101.2" lengthAdjust="spacing" fill-opacity="0.75">14:16:18</text>
<path d="M1988,464.5H2146a4,4 0 0 1 4,4V494a4,4 0 0 1 -4,4H1988z" fill="#2962ff"/>
<text x="2006" y="488.4" font-size="23.5" fill="#fff" textLength="130.6" lengthAdjust="spacing">113,519.23</text>
<path d="M1988,525H2146a4,4 0 0 1 4,4V554.5a4,4 0 0 1 -4,4H1988z" fill="#9c27b0"/>
<text x="2006" y="549" font-size="23.5" fill="#fff" textLength="130.6" lengthAdjust="spacing">107,981.54</text>
<path d="M1988,559.3H2146a4,4 0 0 1 4,4V588.8a4,4 0 0 1 -4,4H1988z" fill="#000"/>
<text x="2006" y="583.2" font-size="23.5" fill="#fff" textLength="130.6" lengthAdjust="spacing">107,304.15</text>
<path d="M1988,691H2132a4,4 0 0 1 4,4V720.7a4,4 0 0 1 -4,4H1988z" fill="#000"/>
<text x="2006" y="715.1" font-size="23.5" fill="#fff" textLength="115.9" lengthAdjust="spacing">98,274.63</text>
<path d="M1988,725.5H2082a4,4 0 0 1 4,4V754H1988z" fill="#26a69a"/>
<text x="2005.5" y="750" font-size="23.5" fill="#fff" textLength="69.5" lengthAdjust="spacing">9.13 K</text>
<text x="2006" y="782.5" font-size="23.5" fill="#131722" textLength="65.3" lengthAdjust="spacing">80.00</text>
<text x="2006" y="961.2" font-size="23.5" fill="#131722" textLength="65.3" lengthAdjust="spacing">40.00</text>
<path d="M1988,851H2078a4,4 0 0 1 4,4V880.7a4,4 0 0 1 -4,4H1988z" fill="#fdd835"/>
<text x="2006" y="875.1" font-size="23.5" fill="#131722" textLength="65.3" lengthAdjust="spacing">59.00</text>
<path d="M1988,903H2078a4,4 0 0 1 4,4V932.6a4,4 0 0 1 -4,4H1988z" fill="#7e57c2"/>
<text x="2006" y="927" font-size="23.5" fill="#fff" textLength="65.3" lengthAdjust="spacing">47.46</text>
<g clip-path="url(#ca3)">
<text x="2006" y="1032.7" font-size="23.5" fill="#131722" textLength="101.2" lengthAdjust="spacing">5,000.00</text>
<text x="2006" y="1094.7" font-size="23.5" fill="#131722" textLength="101.2" lengthAdjust="spacing">2,500.00</text>
<text x="2006" y="1221.2" font-size="23.5" fill="#131722" textLength="117.2" lengthAdjust="spacing">−2,500.00</text>
</g>
<path d="M1988,1088.2H2116a4,4 0 0 1 4,4V1117.6a4,4 0 0 1 -4,4H1988z" fill="#f23645"/>
<text x="2006" y="1112.1" font-size="23.5" fill="#fff" textLength="101.2" lengthAdjust="spacing">1,229.93</text>
<path d="M1988,1122.5H2093.6a4,4 0 0 1 4,4V1151.2a4,4 0 0 1 -4,4H1988z" fill="#2962ff"/>
<text x="2006" y="1146" font-size="23.5" fill="#fff" textLength="80" lengthAdjust="spacing">424.82</text>
<path d="M1988,1156.5H2107.8a4,4 0 0 1 4,4V1186a4,4 0 0 1 -4,4H1988z" fill="#ff5252"/>
<text x="2006" y="1180.5" font-size="23.5" fill="#fff" textLength="96" lengthAdjust="spacing">−805.11</text>
<text x="132.8" y="1286" font-size="24" fill="#131722" font-weight="700" text-anchor="middle">Apr</text>
<text x="374" y="1286" font-size="24" fill="#131722" font-weight="700" text-anchor="middle">May</text>
<text x="623.2" y="1286" font-size="24" fill="#131722" font-weight="700" text-anchor="middle">Jun</text>
<text x="864.4" y="1286" font-size="24" fill="#131722" font-weight="700" text-anchor="middle">Jul</text>
<text x="1113.7" y="1286" font-size="24" fill="#131722" font-weight="700" text-anchor="middle">Aug</text>
<text x="1362.9" y="1286" font-size="24" fill="#131722" font-weight="700" text-anchor="middle">Sep</text>
<text x="1604.1" y="1286" font-size="24" fill="#131722" font-weight="700" text-anchor="middle">Oct</text>
<text x="1853.4" y="1286" font-size="24" fill="#131722" font-weight="700" text-anchor="middle">Nov</text>
<path d="M24.1,1348.2H48.1V1377.7H36.2V1360H24.1z M70.3,1348.2H83.9L71.9,1377.7H58.2z" fill="#131313"/>
<circle cx="57.9" cy="1354.1" r="5.9" fill="#131313"/>
<text x="98" y="1377.7" font-size="41" fill="#131313" font-weight="700" textLength="242" lengthAdjust="spacing">TradingView</text>
</svg>
</body></html>
